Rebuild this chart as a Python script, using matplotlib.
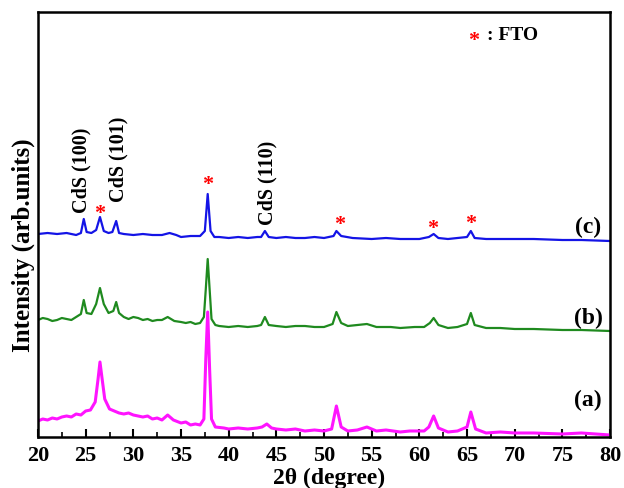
import numpy as np
import matplotlib
matplotlib.use('Agg')
import matplotlib.pyplot as plt
from matplotlib.ticker import MultipleLocator

# XRD patterns (intensity in arbitrary units, offset stacked)
two_theta_a = [20, 20.5, 21, 21.5, 22, 22.5, 23, 23.5, 24, 24.5, 25, 25.5, 26.0, 26.3, 26.5, 26.7, 27.0,
               27.5, 28, 28.5, 29, 29.5, 30, 30.5, 31, 31.5, 32, 32.5, 33, 33.6, 34.2, 35, 35.5, 36, 36.5,
               37, 37.4, 37.6, 37.8, 38.0, 38.2, 38.6, 39.5, 40, 41, 42, 43, 43.5, 44, 44.5, 45, 46, 47,
               48, 49, 50, 50.8, 51.3, 51.8, 52.5, 53.5, 54.5, 55.5, 56.5, 58, 59, 60.5, 61.0, 61.5,
               62.0, 63, 64, 65.0, 65.4, 65.9, 67, 68.5, 70, 72, 75, 77, 80]
intensity_a = [16, 18, 17, 19, 18, 20, 21, 20, 23, 22, 26, 27, 35, 58, 75, 60, 38,
               28, 26, 24, 23, 24, 22, 21, 20, 21, 18, 19, 17, 22, 17, 14, 15, 12, 13,
               12, 18, 78, 125, 68, 18, 10, 9, 8, 9, 8, 9, 10, 13, 9, 8, 7, 8,
               6, 7, 6, 8, 31, 10, 6, 7, 10, 6, 7, 5, 6, 6, 10, 21,
               9, 5, 6, 10, 25, 8, 4, 5, 4, 4, 3, 4, 2]

two_theta_b = [20, 20.5, 21, 21.5, 22, 22.5, 23, 23.5, 24, 24.5, 24.8, 25.1, 25.6, 26.1, 26.5, 26.9,
               27.4, 27.9, 28.2, 28.5, 29, 29.5, 30, 30.5, 31, 31.5, 32, 32.5, 33, 33.6, 34.3, 35, 35.5,
               36, 36.5, 37.0, 37.4, 37.6, 37.8, 38.0, 38.2, 38.6, 39, 40, 41, 42, 43, 43.4, 43.8, 44.2,
               45, 46, 47, 48, 49, 50, 50.9, 51.3, 51.8, 52.5, 53.5, 54.5, 55.5, 57, 58, 59.5, 60.5,
               61.1, 61.5, 62.0, 63, 64, 65.0, 65.4, 65.8, 67, 68.5, 70, 72, 75, 77, 80]
intensity_b = [117, 119, 118, 116, 117, 119, 118, 117, 120, 123, 137, 124, 123, 133, 149, 133,
               124, 126, 135, 124, 120, 118, 120, 119, 117, 118, 116, 117, 117, 120, 116, 115, 114,
               115, 113, 114, 120, 148, 178, 148, 118, 112, 111, 110, 111, 110, 111, 112, 120, 112,
               111, 110, 111, 111, 110, 110, 113, 125, 114, 111, 112, 113, 110, 110, 109, 110, 110,
               114, 119, 112, 109, 110, 113, 124, 112, 109, 109, 108, 108, 107, 107, 106]

two_theta_c = [20, 21, 22, 23, 24, 24.5, 24.8, 25.1, 25.6, 26.1, 26.5, 26.9, 27.4, 27.8, 28.2, 28.5, 29,
               30, 31, 32, 33, 33.8, 34.5, 35, 36, 37, 37.5, 37.8, 38.1, 38.5, 39, 40, 41, 42, 43, 43.4,
               43.8, 44.2, 45, 46, 47, 48, 49, 50, 51.0, 51.3, 51.8, 53, 55, 56.5, 58, 60, 61.0, 61.5,
               62.0, 63, 64, 65.0, 65.4, 65.8, 67, 70, 72, 75, 77, 80]
intensity_c = [203, 204, 203, 204, 202, 204, 218, 205, 204, 207, 220, 206, 204, 205, 216, 204, 203,
               202, 203, 202, 202, 204, 202, 200, 201, 201, 206, 243, 206, 200, 200, 199, 200, 199, 200,
               200, 206, 200, 199, 200, 199, 199, 200, 199, 201, 206, 201, 199, 198, 199, 198, 198, 200,
               203, 199, 198, 199, 200, 206, 199, 198, 198, 198, 197, 197, 196]

# FTO peaks marked with a red asterisk
fto_x = [26.5, 37.8, 51.6, 61.4, 65.4]
fto_y = [224, 253, 213, 209, 214]

# CdS reflections
cds_labels = ['CdS (100)', 'CdS (101)', 'CdS (110)']
cds_x = [24.6, 28.4, 44.1]
cds_y = [225, 236, 213]

plt.rcParams['font.family'] = ['Liberation Serif', 'DejaVu Serif']
plt.rcParams['font.weight'] = 'bold'
plt.rcParams['axes.labelweight'] = 'bold'

fig = plt.figure(figsize=(6.24, 4.89), dpi=100)
ax = fig.add_axes([0.0609, 0.1043, 0.9167, 0.8691])

ax.plot(two_theta_c, intensity_c, color='#1414e6', lw=1.6)
ax.plot(two_theta_b, intensity_b, color='#1f8a1f', lw=1.6)
ax.plot(two_theta_a, intensity_a, color='#ff14ff', lw=2.2)

for x, y in zip(fto_x, fto_y):
    ax.text(x, y, '*', color='red', fontsize=16, ha='center', va='center')
for lab, x, y in zip(cds_labels, cds_x, cds_y):
    ax.text(x, y, lab, rotation=90, fontsize=14.5, ha='center', va='bottom')

ax.text(65.7, 397, '*', color='red', fontsize=16, ha='center', va='center')
ax.text(67.1, 403, ': FTO', fontsize=14, ha='left', va='center')

ax.text(77.7, 211, '(c)', fontsize=17, ha='center', va='center')
ax.text(77.7, 120, '(b)', fontsize=17, ha='center', va='center')
ax.text(77.7, 38, '(a)', fontsize=17, ha='center', va='center')

ax.set_xlim(20, 80)
ax.set_ylim(0, 425)
ax.xaxis.set_major_locator(MultipleLocator(5))
ax.xaxis.set_minor_locator(MultipleLocator(2.5))
ax.set_yticks([])
ax.tick_params(axis='x', which='major', direction='in', length=6, width=1.5, labelsize=16, pad=6)
ax.tick_params(axis='x', which='minor', direction='in', length=3.5, width=1.2)
for s in ax.spines.values():
    s.set_linewidth(1.8)

ax.set_xlabel('2θ (degree)', fontsize=17)
ax.set_ylabel('Intensity (arb.units)', fontsize=18)
ax.xaxis.set_label_coords(0.509, -0.071)
ax.yaxis.set_label_coords(-0.005, 0.454)

fig.savefig('out.png', dpi=100)
